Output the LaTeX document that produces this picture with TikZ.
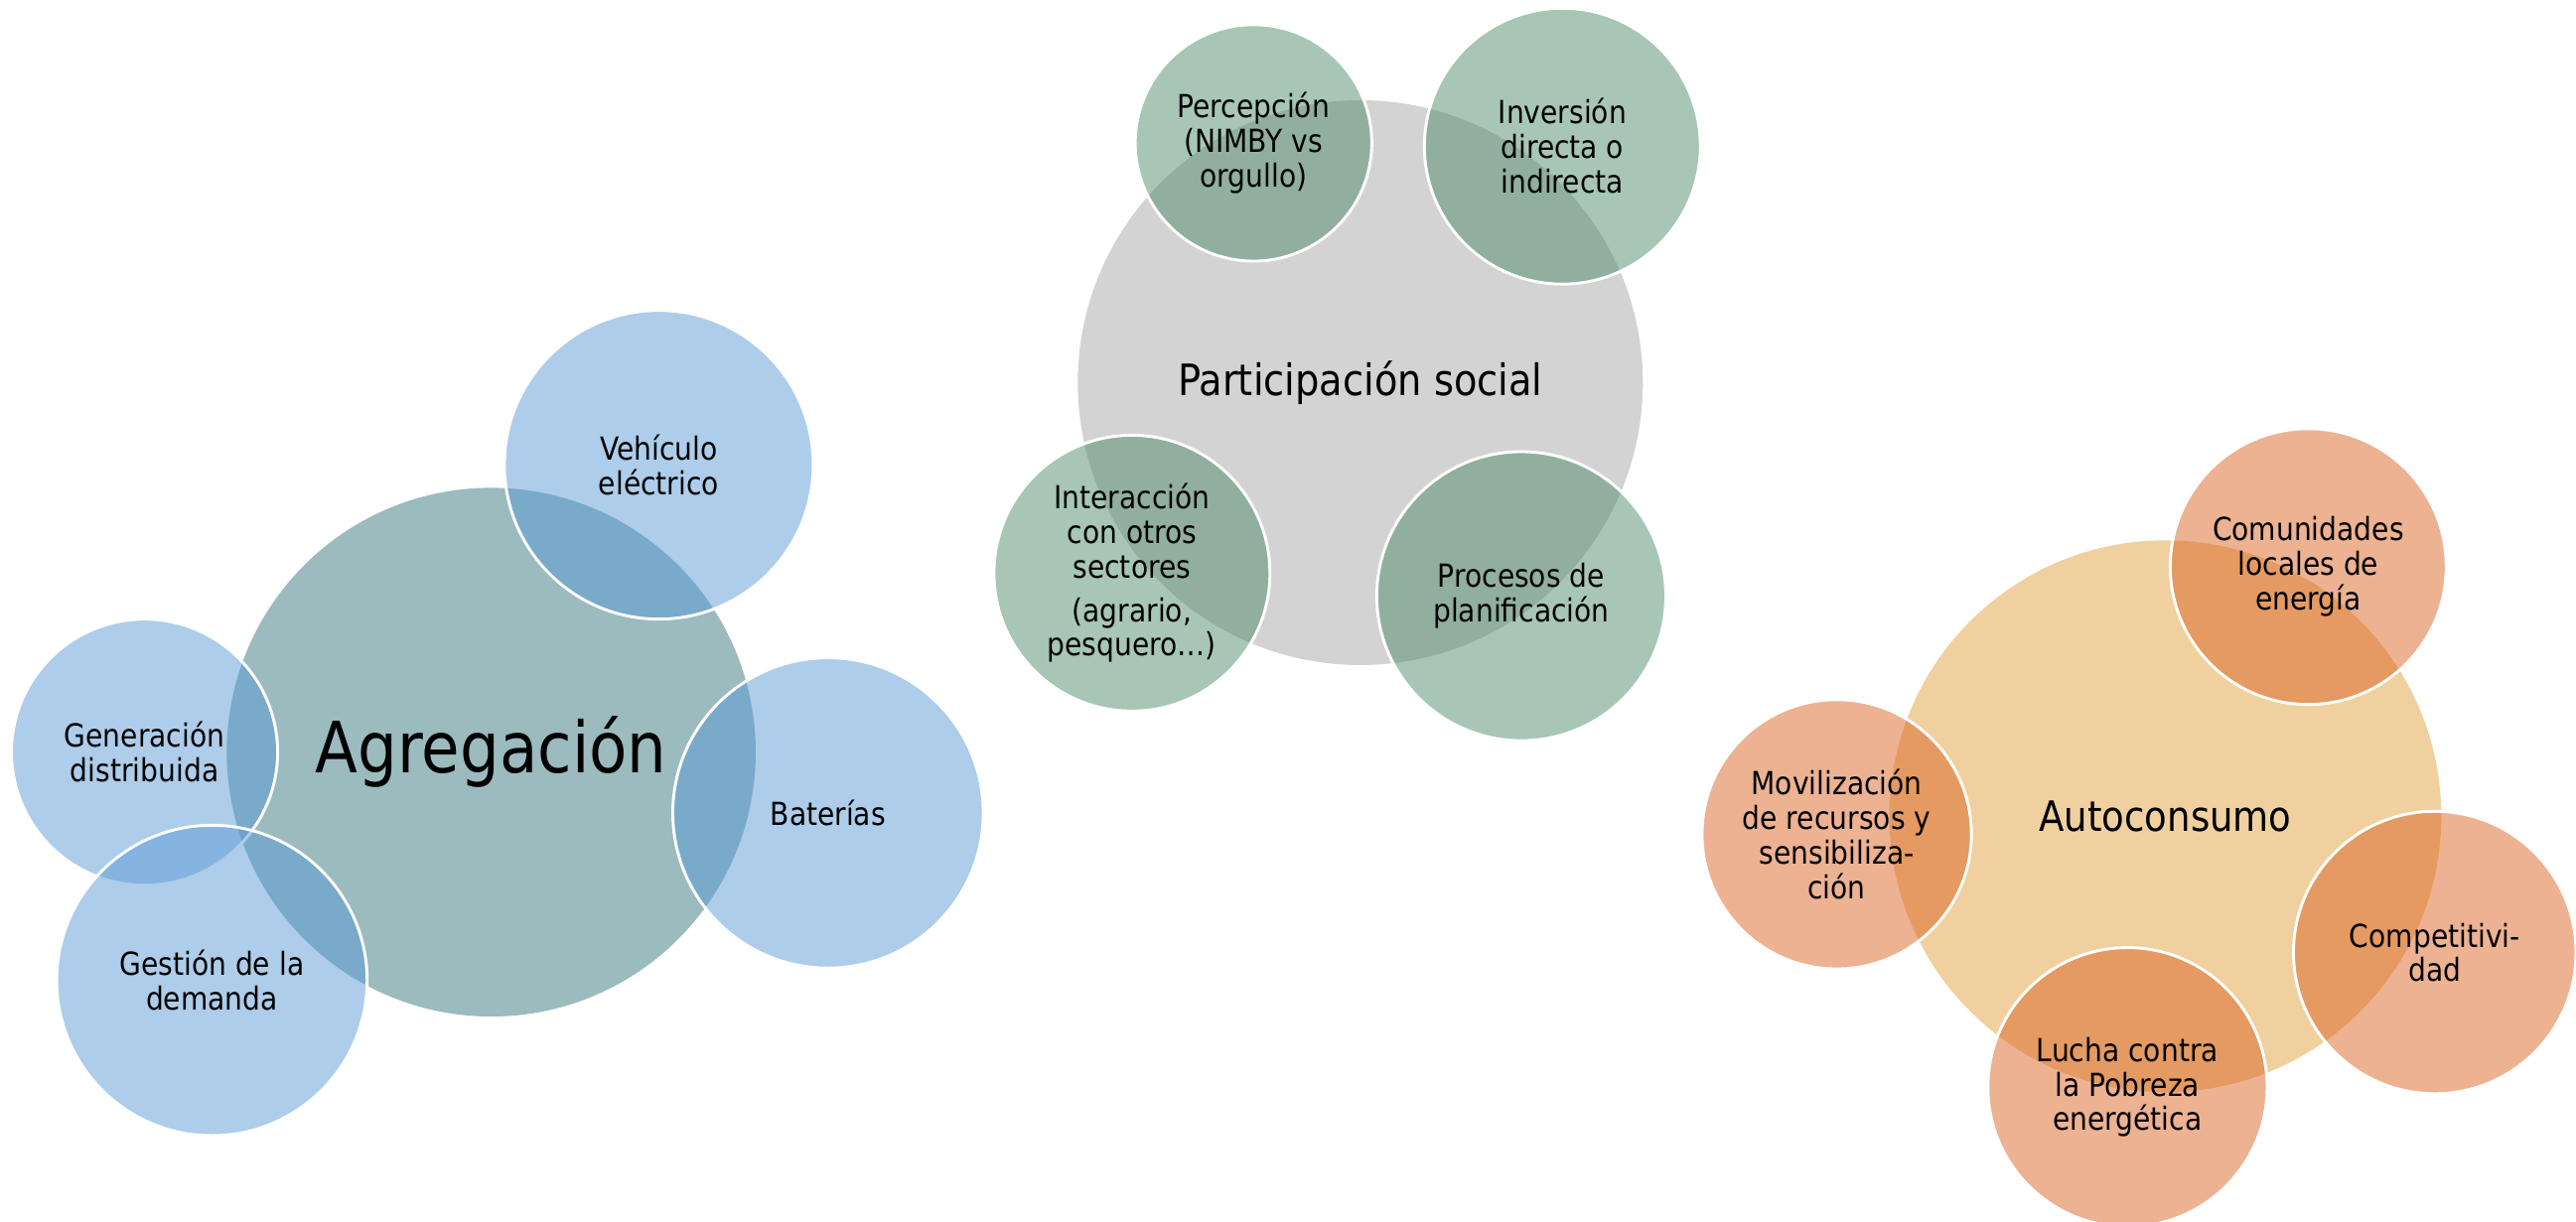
\documentclass[tikz,border=0pt]{standalone}
\usepackage{fontspec}
\setmainfont{DejaVu Sans}[FakeStretch=0.88]
\usepackage{tikz}

\definecolor{azul}{RGB}{91,155,213}
\definecolor{azulgris}{RGB}{155,187,190}
\definecolor{gris}{RGB}{211,211,211}
\definecolor{verde}{RGB}{81,141,107}
\definecolor{crema}{RGB}{240,208,158}
\definecolor{naranja}{RGB}{217,101,37}

\begin{document}
\begin{tikzpicture}[
	x=0.02cm, y=-0.02cm,
	every node/.style = {align=center, inner sep=0pt,
		font=\fontsize{11}{12}\selectfont},
	centro/.style = {circle, fill=#1},
	burbuja/.style = {circle, draw=white, line width=1pt,
		fill=#1, fill opacity=0.5, text opacity=1}]
	\useasboundingbox (0,0) rectangle (1568,744);

	% Agregacion
	\node[centro=azulgris, minimum size=6.44cm, font=\fontsize{24.5}{29}\selectfont] (agregacion) at (299,458) {Agregación};
	\node[burbuja=azul, minimum size=3.76cm] (vehiculo) at (401,283) {Vehículo\\eléctrico};
	\node[burbuja=azul, minimum size=3.78cm] (baterias) at (504,495) {Baterías};
	\node[burbuja=azul, minimum size=3.24cm] (generacion) at (88,458) {Generación\\distribuida};
	\node[burbuja=azul, minimum size=3.78cm] (gestion) at (129,597) {Gestión de la\\demanda};

	% Participacion social
	\node[centro=gris, minimum size=6.88cm, font=\fontsize{15}{18}\selectfont] (participacion) at (828,233) {Participación social};
	\node[burbuja=verde, minimum size=2.88cm] (percepcion) at (763,87) {Percepción\\(NIMBY vs\\orgullo)};
	\node[burbuja=verde, minimum size=3.36cm] (inversion) at (951,89) {Inversión\\directa o\\indirecta};
	\node[burbuja=verde, minimum size=3.36cm] (interaccion) at (689,349) {Interacción\\con otros\\sectores\\[3pt](agrario,\\pesquero…)};
	\node[burbuja=verde, minimum size=3.52cm] (procesos) at (926,363) {Procesos de\\planificación};

	% Autoconsumo
	\node[centro=crema, minimum size=6.72cm, font=\fontsize{14.5}{17}\selectfont] (autoconsumo) at (1318,497) {Autoconsumo};
	\node[burbuja=naranja, minimum size=3.36cm] (comunidades) at (1405,345) {Comunidades\\locales de\\energía};
	\node[burbuja=naranja, minimum size=3.28cm] (movilizacion) at (1118,508) {Movilización\\de recursos y\\sensibiliza-\\ción};
	\node[burbuja=naranja, minimum size=3.44cm] (competitividad) at (1482,580) {Competitivi-\\dad};
	\node[burbuja=naranja, minimum size=3.40cm] (lucha) at (1295,662) {Lucha contra\\la Pobreza\\energética};
\end{tikzpicture}
\end{document}
